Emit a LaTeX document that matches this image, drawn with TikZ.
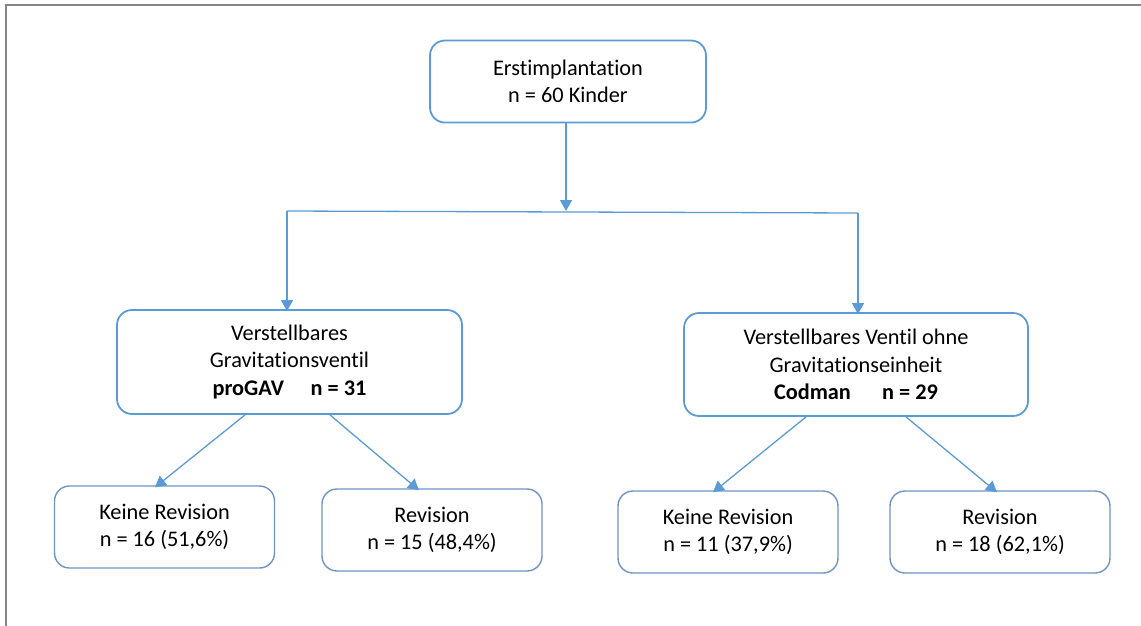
\documentclass[tikz,border=0pt]{standalone}
\usepackage{fontspec}
\setmainfont{Carlito}[Ligatures=NoCommon]
\usetikzlibrary{arrows.meta}
\definecolor{boxblue}{HTML}{5B9BD5}
\definecolor{boxdark}{HTML}{6F93C3}
\definecolor{framegray}{HTML}{858585}
\tikzset{
  mainbox/.style={draw=boxblue, line width=1.8pt, rounded corners=15pt, align=center,
    font=\fontsize{22.3}{27.5}\selectfont, inner sep=0pt},
  leafbox/.style={draw=boxdark, line width=1.4pt, rounded corners=15pt, align=center,
    font=\fontsize{22.3}{27.5}\selectfont, inner sep=0pt, minimum width=220pt, minimum height=82pt},
  conn/.style={draw=boxblue, line width=1.3pt},
  arr/.style={conn, -{Triangle[width=12pt,length=11pt]}},
}
\begin{document}
\begin{tikzpicture}[x=1pt,y=-1pt]
\useasboundingbox (0,0) rectangle (1141,625);
\draw[framegray, line width=2.2pt] (6,626) -- (6,5) -- (1142,5);

\node[mainbox, minimum width=276pt, minimum height=82pt] (top) at (568,81.5)
  {Erstimplantation\\n = 60 Kinder};
\node[mainbox, minimum width=345pt, minimum height=104pt] (ml) at (289.5,362)
  {Verstellbares\\Gravitationsventil\\\textbf{proGAV}\hspace{1.2em}\textbf{n = 31}};
\node[mainbox, minimum width=344pt, minimum height=103pt] (mr) at (856,364.5)
  {Verstellbares Ventil ohne\\Gravitationseinheit\\\textbf{Codman}\hspace{1.4em}\textbf{n = 29}};

\node[leafbox] (b1) at (164.5,527) {Keine Revision\\n = 16 (51,6\%)};
\node[leafbox] (b2) at (432,530) {Revision\\n = 15 (48,4\%)};
\node[leafbox] (b3) at (728,532) {Keine Revision\\n = 11 (37,9\%)};
\node[leafbox] (b4) at (1000,532) {Revision\\n = 18 (62,1\%)};

\coordinate (junc) at (566,211);
\coordinate (jl) at (287,211);
\coordinate (jr) at (858,213);

\draw[arr] (top.south -| junc) -- (junc);
\draw[conn] (jl) -- (jr);
\draw[arr] (jl) -- ([yshift=-2pt]jl |- ml.north);
\draw[arr] (jr) -- ([yshift=-2pt]jr |- mr.north);

\draw[arr] ([xshift=-44.5pt]ml.south) -- ([xshift=-9.5pt,yshift=-2pt]b1.north);
\draw[arr] ([xshift=40.5pt]ml.south) -- ([xshift=-13pt,yshift=-2pt]b2.north);
\draw[arr] ([xshift=-50pt]mr.south) -- ([xshift=-15pt,yshift=-2pt]b3.north);
\draw[arr] ([xshift=50pt]mr.south) -- ([xshift=-3pt,yshift=-2pt]b4.north);
\end{tikzpicture}
\end{document}
